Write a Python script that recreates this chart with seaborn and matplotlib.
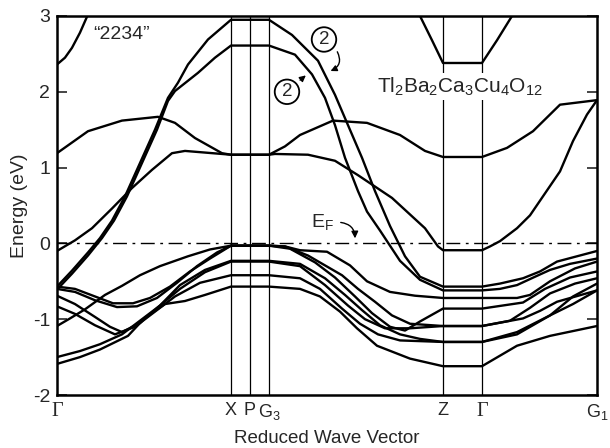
import matplotlib
matplotlib.use('Agg')
import matplotlib.pyplot as plt
import pandas as pd
import seaborn as sns

# ---- high-symmetry points (path distance, arbitrary units) ----
sym_labels = ['Γ', 'X', 'P', 'G$_3$', 'Z', 'Γ', 'G$_1$']
sym_k = [0, 174, 193, 212, 386, 425, 540]
y_ticks = [-2, -1, 0, 1, 2, 3]

# ---- bands (k, energy in eV) ----
u1_k = [0, 8, 15, 23, 31, 35]
u1_e = [2.36, 2.45, 2.58, 2.78, 3.02, 3.15]

uz_k = [361, 363, 375, 386, 425, 440, 455, 457]
uz_e = [3.05, 3.0, 2.68, 2.38, 2.38, 2.68, 3.0, 3.05]

bandB_k = [0, 31, 65, 101, 118, 138, 165, 174, 212, 228, 243, 276, 310, 343, 368, 386, 425, 450, 476, 503, 540]
bandB_e = [1.19, 1.48, 1.62, 1.67, 1.59, 1.39, 1.19, 1.17, 1.17, 1.28, 1.43, 1.62, 1.59, 1.43, 1.22, 1.14, 1.14, 1.26, 1.48, 1.83, 1.89]

bandC_k = [0, 18, 35, 55, 75, 95, 115, 128, 174, 212, 218, 251, 278, 301, 335, 368, 381, 386, 425, 433, 443, 460, 473, 503, 516, 530, 540]
bandC_e = [-0.1, 0.04, 0.2, 0.46, 0.73, 0.97, 1.19, 1.22, 1.17, 1.17, 1.18, 1.17, 1.09, 0.9, 0.6, 0.2, -0.04, -0.09, -0.09, -0.04, 0.03, 0.2, 0.37, 0.95, 1.35, 1.7, 1.89]

d2a_k = [0, 15, 31, 43, 55, 68, 83, 98, 111, 121, 131, 151, 174, 212, 235, 261, 278, 291, 305, 318, 333, 348, 363, 386, 425, 443, 466, 483, 500, 540]
d2a_e = [-0.57, -0.36, -0.12, 0.07, 0.3, 0.62, 1.06, 1.5, 1.92, 2.12, 2.36, 2.69, 2.95, 2.95, 2.75, 2.41, 1.96, 1.56, 1.13, 0.69, 0.23, -0.17, -0.44, -0.57, -0.57, -0.53, -0.46, -0.37, -0.24, -0.1]

d2b_k = [0, 15, 31, 45, 57, 70, 85, 100, 111, 118, 141, 158, 174, 212, 238, 255, 268, 278, 288, 301, 310, 323, 343, 363, 386, 425, 443, 460, 478, 493, 513, 540]
d2b_e = [-0.61, -0.4, -0.16, 0.07, 0.3, 0.62, 1.06, 1.5, 1.88, 2.01, 2.25, 2.45, 2.61, 2.61, 2.49, 2.23, 1.92, 1.56, 1.13, 0.69, 0.42, 0.17, -0.23, -0.48, -0.62, -0.62, -0.6, -0.55, -0.44, -0.35, -0.27, -0.2]

v1_k = [0, 18, 38, 56, 76, 93, 113, 133, 153, 174, 212, 228, 243, 270, 293, 310, 333, 358, 386, 425, 460, 473, 493, 518, 540]
v1_e = [-0.57, -0.6, -0.7, -0.79, -0.79, -0.72, -0.57, -0.37, -0.2, -0.03, -0.03, -0.04, -0.09, -0.11, -0.29, -0.5, -0.64, -0.69, -0.72, -0.72, -0.72, -0.68, -0.5, -0.33, -0.24]

v2_k = [0, 18, 38, 60, 80, 100, 120, 140, 160, 174, 212, 228, 251, 268, 285, 301, 318, 335, 353, 386, 425, 466, 483, 500, 540]
v2_e = [-0.6, -0.64, -0.75, -0.84, -0.83, -0.72, -0.52, -0.3, -0.12, -0.03, -0.03, -0.04, -0.16, -0.29, -0.42, -0.6, -0.77, -0.95, -1.06, -1.09, -1.09, -0.99, -0.89, -0.77, -0.62]

v3_k = [0, 18, 38, 53, 65, 83, 103, 123, 148, 174, 212, 243, 268, 288, 305, 323, 343, 363, 386, 425, 460, 493, 516, 540]
v3_e = [-0.69, -0.8, -0.97, -1.1, -1.17, -1.05, -0.82, -0.55, -0.35, -0.23, -0.23, -0.27, -0.46, -0.68, -0.88, -1.08, -1.2, -1.26, -1.3, -1.3, -1.17, -0.95, -0.8, -0.62]

v4_k = [0, 18, 38, 58, 78, 98, 118, 143, 174, 212, 243, 263, 285, 303, 321, 343, 386, 425, 460, 493, 516, 540]
v4_e = [-0.83, -0.93, -1.08, -1.2, -1.1, -0.9, -0.7, -0.52, -0.42, -0.42, -0.46, -0.6, -0.86, -1.06, -1.2, -1.28, -1.3, -1.3, -1.2, -0.95, -0.7, -0.53]

v5_k = [0, 13, 28, 48, 65, 83, 103, 131, 153, 174, 212, 233, 258, 278, 298, 315, 333, 348, 363, 386, 425, 466, 488, 513, 540]
v5_e = [-1.09, -0.99, -0.87, -0.68, -0.56, -0.42, -0.3, -0.17, -0.08, -0.03, -0.03, -0.07, -0.25, -0.45, -0.7, -0.92, -1.1, -1.15, -1.03, -0.86, -0.86, -0.78, -0.6, -0.45, -0.37]

v6_k = [0, 23, 43, 65, 83, 103, 123, 148, 174, 212, 243, 268, 291, 308, 328, 353, 386, 425, 453, 473, 493, 518, 540]
v6_e = [-1.5, -1.42, -1.33, -1.2, -1.02, -0.82, -0.6, -0.38, -0.24, -0.24, -0.3, -0.55, -0.82, -1.0, -1.12, -1.12, -1.09, -1.09, -1.02, -0.85, -0.66, -0.53, -0.46]

v7_k = [0, 23, 43, 71, 88, 108, 128, 148, 174, 212, 243, 263, 283, 300, 320, 353, 386, 425, 460, 493, 540]
v7_e = [-1.59, -1.5, -1.4, -1.22, -0.98, -0.8, -0.76, -0.68, -0.57, -0.57, -0.6, -0.7, -0.9, -1.12, -1.35, -1.52, -1.62, -1.62, -1.35, -1.22, -1.09]

bands = {
    'U1': (u1_k, u1_e), 'UZ': (uz_k, uz_e), 'B': (bandB_k, bandB_e),
    'C': (bandC_k, bandC_e), 'D2a': (d2a_k, d2a_e), 'D2b': (d2b_k, d2b_e),
    'V1': (v1_k, v1_e), 'V2': (v2_k, v2_e), 'V3': (v3_k, v3_e),
    'V4': (v4_k, v4_e), 'V5': (v5_k, v5_e), 'V6': (v6_k, v6_e),
    'V7': (v7_k, v7_e),
}
df = pd.concat([pd.DataFrame({'k': k, 'E': e, 'band': name})
                for name, (k, e) in bands.items()], ignore_index=True)

# ---- style ----
sns.set_style('white')
plt.rcParams['font.family'] = ['Liberation Sans', 'DejaVu Sans']
plt.rcParams['mathtext.fontset'] = 'custom'
plt.rcParams['mathtext.rm'] = 'Liberation Sans'
plt.rcParams['mathtext.it'] = 'Liberation Sans:italic'
plt.rcParams['axes.unicode_minus'] = False

fig = plt.figure(figsize=(6.1, 4.48), dpi=100)
ax = fig.add_axes([0.0934, 0.1183, 0.8853, 0.846])

for kk in sym_k[1:-1]:
    ax.axvline(kk, color='black', lw=0.9, zorder=1)
ax.axhline(0, color='black', lw=1.0, ls=(0, (10, 4, 2, 4)), zorder=1)

sns.lineplot(data=df, x='k', y='E', units='band', estimator=None, sort=False,
             color='black', lw=1.7, ax=ax, legend=False, zorder=3)

ax.set_xlim(sym_k[0], sym_k[-1])
ax.set_ylim(-2, 3)
ax.set_yticks(y_ticks)
ax.set_yticklabels([str(t) for t in y_ticks], fontsize=14)
ax.set_xticks(sym_k)
ax.set_xticklabels(sym_labels, fontsize=13)
for lab in ax.get_xticklabels():
    if 'Γ' in lab.get_text():
        lab.set_fontfamily(['Liberation Serif', 'DejaVu Serif'])
        lab.set_fontsize(14.5)
ax.tick_params(axis='x', length=0, pad=5)
ax.tick_params(axis='y', direction='in', length=7, width=1.2, left=True, right=True, pad=5)
for s in ax.spines.values():
    s.set_linewidth(1.8)
    s.set_color('black')

ax.set_xlabel('Reduced Wave Vector', fontsize=13.5, labelpad=6)
ax.set_ylabel('Energy (eV)', fontsize=14, labelpad=3)

# ---- annotations ----
ax.text(65, 2.76, '\u201c2234\u201d', fontsize=14, ha='center', va='center')
ax.text(403, 2.07, r'Tl$_2$Ba$_2$Ca$_3$Cu$_4$O$_{12}$', fontsize=15,
        ha='center', va='center', zorder=4,
        bbox=dict(fc='white', ec='none', pad=2))
ax.text(254, 0.28, r'E$_{\rm F}$', fontsize=14, ha='left', va='center')
ax.annotate('', xy=(298, 0.03), xytext=(281, 0.28),
            arrowprops=dict(arrowstyle='-|>', color='black', lw=1.0,
                            connectionstyle='arc3,rad=-0.5', mutation_scale=10))

ax.text(267, 2.69, '2', fontsize=13.5, ha='center', va='center', zorder=5,
        bbox=dict(boxstyle='circle,pad=0.2', fc='white', ec='black', lw=1.3))
ax.annotate('', xy=(271, 2.26), xytext=(279, 2.56),
            arrowprops=dict(arrowstyle='-|>', color='black', lw=1.0,
                            connectionstyle='arc3,rad=-0.6', mutation_scale=9))
ax.text(230, 2.0, '2', fontsize=13.5, ha='center', va='center', zorder=5,
        bbox=dict(boxstyle='circle,pad=0.2', fc='white', ec='black', lw=1.3))
ax.annotate('', xy=(251, 2.24), xytext=(241, 2.13),
            arrowprops=dict(arrowstyle='-|>', color='black', lw=1.0,
                            connectionstyle='arc3,rad=0.0', mutation_scale=9))

fig.savefig('out.png', dpi=100)
